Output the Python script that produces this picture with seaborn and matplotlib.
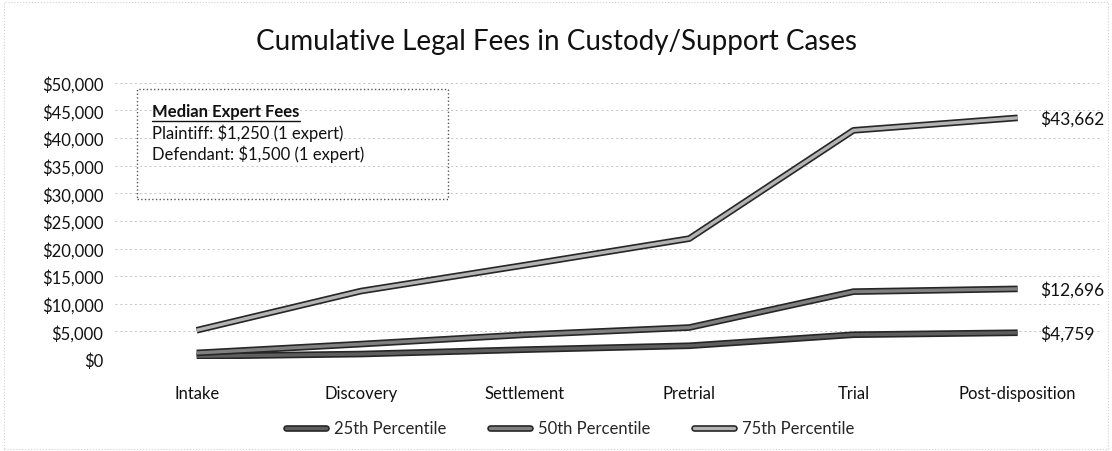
import pandas as pd
import matplotlib
matplotlib.use("Agg")
import matplotlib.pyplot as plt
import matplotlib.patheffects as pe
from matplotlib.lines import Line2D
from matplotlib.ticker import FuncFormatter
import seaborn as sns

# data
stages = ["Intake", "Discovery", "Settlement", "Pretrial", "Trial", "Post-disposition"]
p25 = [500, 900, 1700, 2400, 4400, 4759]
p50 = [1100, 2700, 4400, 5700, 12200, 12696]
p75 = [5200, 12300, 17000, 21800, 41400, 43662]
series_names = ["25th Percentile", "50th Percentile", "75th Percentile"]
end_labels = ["$4,759", "$12,696", "$43,662"]
box_title = "Median Expert Fees"
box_lines = ["Plaintiff: $1,250 (1 expert)", "Defendant: $1,500 (1 expert)"]

df = pd.DataFrame({
    "stage": stages * 3,
    "pos": list(range(len(stages))) * 3,
    "fees": p25 + p50 + p75,
    "series": [s for s in series_names for _ in stages],
})

sns.set_style("white")
plt.rcParams["font.family"] = ["Lato", "DejaVu Sans"]

colors = {"25th Percentile": "#5e5e5e", "50th Percentile": "#808080", "75th Percentile": "#b3b3b3"}
outline = [pe.Stroke(linewidth=4.8, foreground="#262626"), pe.Normal()]

fig = plt.figure(figsize=(11.12, 4.52), dpi=100)
ax = fig.add_axes([0.103, 0.2035, 0.886, 0.611])

sns.lineplot(data=df, x="pos", y="fees", hue="series", palette=colors,
             linewidth=2.4, ax=ax, legend=False, sort=False)
for line in ax.get_lines():
    line.set_path_effects(outline)
    line.set_solid_capstyle("butt")

ax.set_xlim(-0.5, len(stages) - 0.5)
ax.set_ylim(0, 50000)
ax.set_yticks(range(0, 50001, 5000))
ax.yaxis.set_major_formatter(FuncFormatter(lambda v, p: f"${int(v):,}"))
ax.set_xticks(range(len(stages)))
ax.set_xticklabels(stages)
ax.tick_params(axis="both", labelsize=12, length=0, colors="#111111")
ax.tick_params(axis="x", pad=19)
ax.tick_params(axis="y", pad=8)
ax.set_xlabel("")
ax.set_ylabel("")
ax.grid(axis="y", color="#c4c4c4", linestyle=(0, (2, 3)), linewidth=0.7)
ax.set_axisbelow(True)
for s in ax.spines.values():
    s.set_visible(False)

# value labels at the last point
for vals, lab in zip([p25, p50, p75], end_labels):
    ax.annotate(lab, xy=(len(stages) - 1, vals[-1]), xytext=(16, 0),
                textcoords="offset points", va="center", ha="left",
                fontsize=12.5, color="#111111")

fig.suptitle("Cumulative Legal Fees in Custody/Support Cases",
             x=0.50, y=0.935, fontsize=20, color="#111111")

# text box with expert fees
fig.patches.append(plt.Rectangle((0.1235, 0.558), 0.279, 0.242, transform=fig.transFigure,
                                 fill=False, edgecolor="#555555", linestyle=":", linewidth=1))
fig.text(0.137, 0.752, box_title, fontsize=12, fontweight="bold", color="#111111",
         va="center")
fig.add_artist(Line2D([0.137, 0.27], [0.731, 0.731], transform=fig.transFigure,
                      color="#111111", linewidth=1))
for i, t in enumerate(box_lines):
    fig.text(0.137, 0.705 - i * 0.047, t, fontsize=12, color="#111111", va="center")

handles = [Line2D([0], [0], color=colors[n], linewidth=2.4, path_effects=outline)
           for n in series_names]
fig.legend(handles, series_names, loc="center", bbox_to_anchor=(0.513, 0.05), ncol=3,
           frameon=False, fontsize=12, handlelength=2.4, handletextpad=0.5,
           columnspacing=2.6)

fig.patches.append(plt.Rectangle((0.004, 0.004), 0.992, 0.99, transform=fig.transFigure,
                                 fill=False, edgecolor="#d0d0d0", linestyle=":", linewidth=0.8))

fig.savefig("out.png", dpi=100)
